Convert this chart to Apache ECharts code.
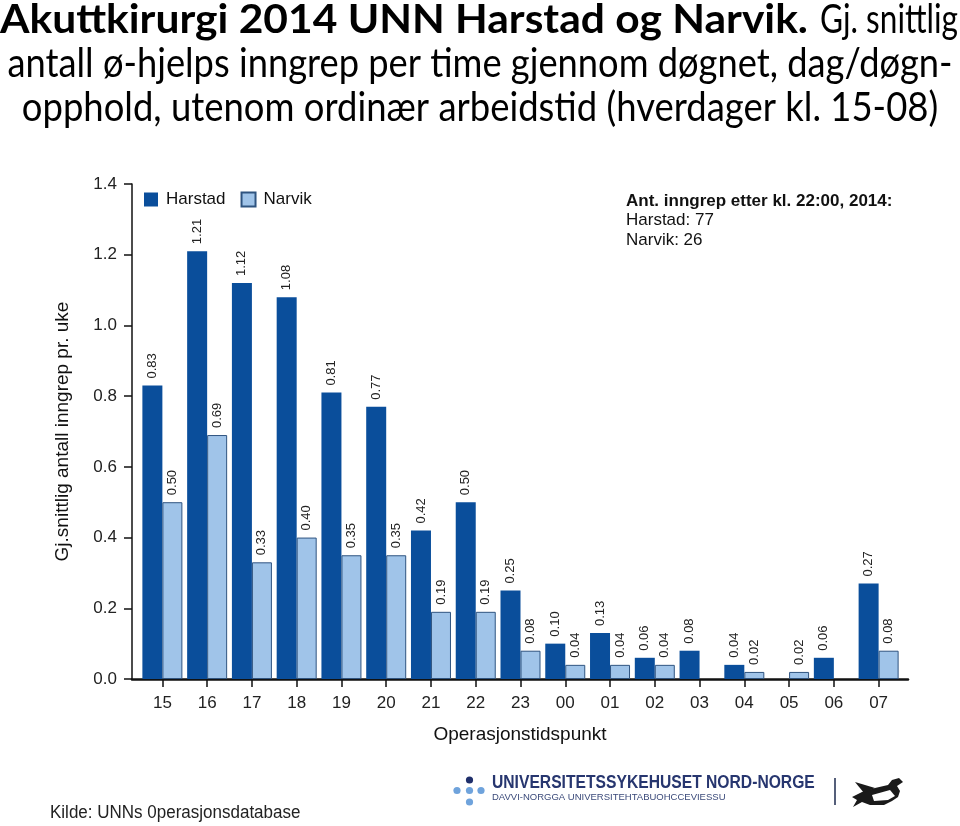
<!DOCTYPE html>
<html><head><meta charset="utf-8">
<script src="https://cdn.jsdelivr.net/npm/echarts@6/dist/echarts.min.js"></script>
<style>html,body{margin:0;padding:0;background:#fff}#c{width:960px;height:826px}</style>
</head><body><div id="c"></div>
<script>
// ---- data ----
const categories = ['15','16','17','18','19','20','21','22','23','00','01','02','03','04','05','06','07'];
const harstad = [0.83,1.21,1.12,1.08,0.81,0.77,0.42,0.50,0.25,0.10,0.13,0.06,0.08,0.04,null,0.06,0.27];
const narvik  = [0.50,0.69,0.33,0.40,0.35,0.35,0.19,0.19,0.08,0.04,0.04,0.04,null,0.02,0.02,null,0.08];
const seriesNames = ['Harstad','Narvik'];
const yMin = 0, yMax = 1.4, yStep = 0.2;
const xAxisName = 'Operasjonstidspunkt';
const yAxisName = 'Gj.snittlig antall inngrep pr. uke';
const titleBold = 'Akuttkirurgi 2014 UNN Harstad og Narvik.';
const titleRest = 'Gj. snittlig';
const titleLine2 = 'antall ø-hjelps inngrep per time gjennom døgnet, dag/døgn-';
const titleLine3 = 'opphold, utenom ordinær arbeidstid (hverdager kl. 15-08)';
const noteHead = 'Ant. inngrep etter kl. 22:00, 2014:';
const noteLines = ['Harstad: 77', 'Narvik: 26'];
const sourceText = 'Kilde: UNNs 0perasjonsdatabase';
const logoMain = 'UNIVERSITETSSYKEHUSET NORD-NORGE';
const logoSub = 'DAVVI-NORGGA UNIVERSITEHTABUOHCCEVIESSU';

const F = 'Liberation Sans, Arial, sans-serif';
const TF = 'Lato, sans-serif';
const cDark = '#0a4e9b', cLight = '#a0c4e9', cBorder = '#2f5480';

const chart = echarts.init(document.getElementById('c'));
const labelOpt = {
  show: true, position: 'top', rotate: 90, align: 'left', verticalAlign: 'middle',
  distance: 7, fontFamily: F, fontSize: 13, color: '#222',
  formatter: p => (p.value == null ? '' : Number(p.value).toFixed(2))
};
chart.setOption({
  animation: false,
  backgroundColor: '#fff',
  textStyle: { fontFamily: F },
  grid: [
    { left: 140, right: 59, top: 184, bottom: 147 },
    { left: 132, right: 52, top: 184, bottom: 147 }
  ],
  legend: {
    data: seriesNames, left: 139, top: 186, itemWidth: 14, itemHeight: 14, itemGap: 15,
    icon: 'rect', textStyle: { fontFamily: F, fontSize: 17, color: '#111', padding: [0, 0, 0, 3] }
  },
  xAxis: [
    { type: 'category', gridIndex: 0, data: categories,
      axisLine: { show: false },
      axisTick: { show: true, alignWithLabel: true, length: 8, lineStyle: { color: '#111', width: 1.5 } },
      axisLabel: { fontFamily: F, fontSize: 17, color: '#222', margin: 16 } },
    { type: 'value', gridIndex: 1, min: 0, max: 1,
      axisLine: { show: true, lineStyle: { color: '#111', width: 2.5 } },
      axisTick: { show: false }, axisLabel: { show: false }, splitLine: { show: false },
      name: xAxisName, nameLocation: 'middle', nameGap: 46,
      nameTextStyle: { fontFamily: F, fontSize: 19, color: '#111' } }
  ],
  yAxis: [
    { type: 'value', gridIndex: 0, min: yMin, max: yMax, interval: yStep, show: false },
    { type: 'value', gridIndex: 1, min: yMin, max: yMax, interval: yStep,
      axisLine: { show: true, lineStyle: { color: '#111', width: 1.5 } },
      axisTick: { show: true, length: 8, lineStyle: { color: '#111', width: 1.5 } },
      axisLabel: { fontFamily: F, fontSize: 17, color: '#222', margin: 15, formatter: v => v.toFixed(1) },
      splitLine: { show: false },
      name: yAxisName, nameLocation: 'middle', nameGap: 60,
      nameTextStyle: { fontFamily: F, fontSize: 19, color: '#111' } }
  ],
  series: [
    { name: seriesNames[0], type: 'bar', xAxisIndex: 0, yAxisIndex: 0, data: harstad,
      barWidth: 20, barGap: '0%', itemStyle: { color: cDark }, label: labelOpt },
    { name: seriesNames[1], type: 'bar', xAxisIndex: 0, yAxisIndex: 0, data: narvik,
      barWidth: 20, barGap: '0%', itemStyle: { color: cLight, borderColor: cBorder, borderWidth: 1 }, label: labelOpt }
  ],
  graphic: [
    { type: 'text', x: 0, y: 20, scaleX: 1.063, style: { text: titleBold, textAlign: 'left', verticalAlign: 'middle',
        fontFamily: TF, fontSize: 40, fontWeight: 'bold', fill: '#000' } },
    { type: 'text', x: 820, y: 20, scaleX: 0.79, style: { text: titleRest, textAlign: 'left', verticalAlign: 'middle',
        fontFamily: TF, fontSize: 40, fill: '#000' } },
    { type: 'text', x: 480, y: 64, scaleX: 0.907, style: { text: titleLine2, textAlign: 'center', verticalAlign: 'middle',
        fontFamily: TF, fontSize: 40, fill: '#000' } },
    { type: 'text', x: 480, y: 108, scaleX: 0.911, style: { text: titleLine3, textAlign: 'center', verticalAlign: 'middle',
        fontFamily: TF, fontSize: 40, fill: '#000' } },
    { type: 'text', x: 626, y: 201, style: { text: noteHead, verticalAlign: 'middle',
        fontFamily: F, fontSize: 17, fontWeight: 'bold', fill: '#111' } },
    { type: 'text', x: 626, y: 220, style: { text: noteLines[0], verticalAlign: 'middle',
        fontFamily: F, fontSize: 17, fill: '#111' } },
    { type: 'text', x: 626, y: 240, style: { text: noteLines[1], verticalAlign: 'middle',
        fontFamily: F, fontSize: 17, fill: '#111' } },
    { type: 'text', x: 50, y: 813, scaleY: 1.1, style: { text: sourceText, verticalAlign: 'middle',
        fontFamily: F, fontSize: 17, fill: '#222' } },
    // logo
    { type: 'circle', shape: { cx: 469.5, cy: 780, r: 3.6 }, style: { fill: '#1f2f6b' } },
    { type: 'circle', shape: { cx: 457, cy: 790.5, r: 3.6 }, style: { fill: '#6fa3dc' } },
    { type: 'circle', shape: { cx: 469.5, cy: 790.5, r: 3.6 }, style: { fill: '#6fa3dc' } },
    { type: 'circle', shape: { cx: 481, cy: 790.5, r: 3.6 }, style: { fill: '#6fa3dc' } },
    { type: 'circle', shape: { cx: 469.5, cy: 802, r: 3.6 }, style: { fill: '#6fa3dc' } },
    { type: 'text', x: 492, y: 783.5, scaleX: 0.87, style: { text: logoMain, verticalAlign: 'middle',
        fontFamily: F, fontSize: 18, fontWeight: 'bold', fill: '#27366f' } },
    { type: 'text', x: 492, y: 797, scaleX: 1.0, style: { text: logoSub, verticalAlign: 'middle',
        fontFamily: F, fontSize: 9.5, fill: '#3b4a7a' } },
    { type: 'rect', shape: { x: 834, y: 778, width: 2, height: 27 }, style: { fill: '#555f7a' } },
    { type: 'polygon', x: 850, y: 775, shape: { points: [[2,22],[12,17],[25,13],[38,10],[42,5],[49,3],[53,7],[47,11],[50,16],[48,22],[42,26],[34,30],[20,30],[12,27],[3,32],[7,25]] },
      style: { fill: '#1a1a1a' } },
    { type: 'polygon', x: 850, y: 775, shape: { points: [[14,18],[5,7],[25,13]] }, style: { fill: '#1a1a1a' } },
    { type: 'polygon', x: 850, y: 775, shape: { points: [[22,20],[40,15],[45,21],[38,25],[24,26]] }, style: { fill: '#ffffff' } }
  ]
});
</script></body></html>
